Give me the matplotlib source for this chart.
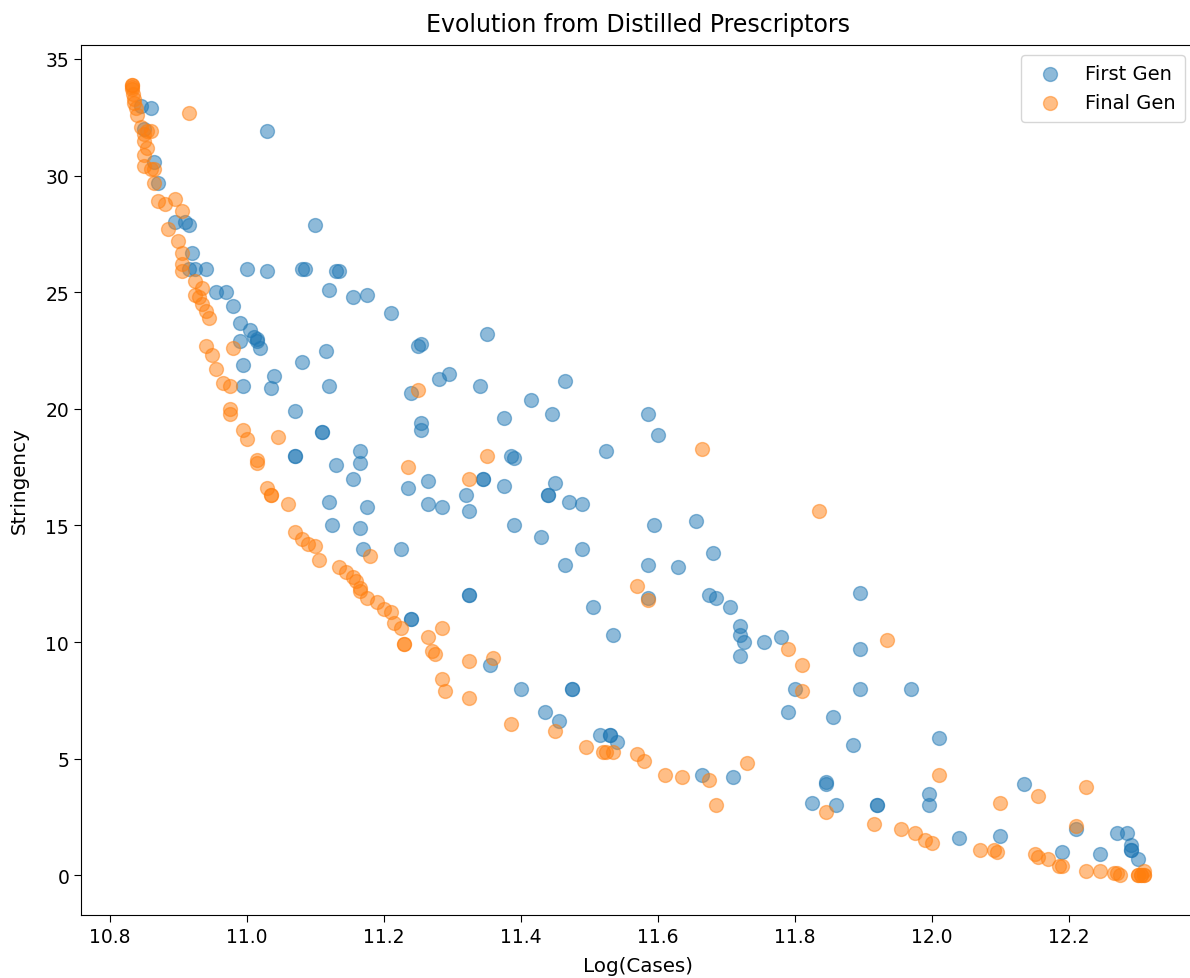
import matplotlib
matplotlib.use("Agg")
import matplotlib.pyplot as plt
import numpy as np

first_x = [10.845, 10.86, 11.03, 10.85, 10.865, 10.87, 10.895, 10.91, 10.915, 11.10,
           10.92, 10.915, 10.925, 10.94, 11.00, 11.03, 11.08, 11.085, 11.13, 11.135,
           10.955, 10.97, 11.12, 11.155, 11.175, 10.98, 10.99, 11.005, 11.01, 11.015,
           11.015, 11.02, 10.99, 11.21, 11.25, 11.255, 11.35, 11.115, 10.995, 11.08,
           11.04, 10.995, 11.035, 11.12, 11.24, 11.28, 11.295, 11.34, 11.465, 11.415,
           11.445, 11.375, 11.07, 11.255, 11.255, 11.11, 11.11, 11.585, 11.60, 11.165,
           11.165, 11.07, 11.07, 11.385, 11.39, 11.13, 11.155, 11.235, 11.265, 11.345,
           11.345, 11.375, 11.44, 11.44, 11.45, 11.525, 11.47, 11.49, 11.12, 11.175,
           11.265, 11.285, 11.32, 11.325, 11.165, 11.125, 11.39, 11.595, 11.655, 11.43,
           11.17, 11.225, 11.49, 11.68, 11.465, 11.585, 11.63, 11.325, 11.325, 11.585,
           11.675, 11.685, 11.705, 11.505, 11.895, 11.24, 11.24, 11.535, 11.72, 11.72,
           11.725, 11.72, 11.755, 11.78, 11.895, 11.355, 11.40, 11.475, 11.475, 11.80,
           11.895, 11.97, 11.79, 11.435, 11.455, 11.855, 11.515, 11.53, 11.53, 11.54,
           11.885, 12.01, 11.665, 11.71, 11.845, 11.845, 11.825, 11.86, 11.92, 11.92,
           11.995, 11.995, 12.135, 12.04, 12.10, 12.21, 12.19, 12.245, 12.27, 12.285,
           12.29, 12.29, 12.29, 12.30]
first_y = [33.0, 32.9, 31.9, 32.0, 30.6, 29.7, 28.0, 28.0, 27.9, 27.9,
           26.7, 26.0, 26.0, 26.0, 26.0, 25.9, 26.0, 26.0, 25.9, 25.9,
           25.0, 25.0, 25.1, 24.8, 24.9, 24.4, 23.7, 23.4, 23.1, 22.9,
           23.0, 22.6, 22.9, 24.1, 22.7, 22.8, 23.2, 22.5, 21.9, 22.0,
           21.4, 21.0, 20.9, 21.0, 20.7, 21.3, 21.5, 21.0, 21.2, 20.4,
           19.8, 19.6, 19.9, 19.4, 19.1, 19.0, 19.0, 19.8, 18.9, 18.2,
           17.7, 18.0, 18.0, 18.0, 17.9, 17.6, 17.0, 16.6, 16.9, 17.0,
           17.0, 16.7, 16.3, 16.3, 16.8, 18.2, 16.0, 15.9, 16.0, 15.8,
           15.9, 15.8, 16.3, 15.6, 14.9, 15.0, 15.0, 15.0, 15.2, 14.5,
           14.0, 14.0, 14.0, 13.8, 13.3, 13.3, 13.2, 12.0, 12.0, 11.9,
           12.0, 11.9, 11.5, 11.5, 12.1, 11.0, 11.0, 10.3, 10.7, 10.3,
           10.0, 9.4, 10.0, 10.2, 9.7, 9.0, 8.0, 8.0, 8.0, 8.0,
           8.0, 8.0, 7.0, 7.0, 6.6, 6.8, 6.0, 6.0, 6.0, 5.7,
           5.6, 5.9, 4.3, 4.2, 4.0, 3.9, 3.1, 3.0, 3.0, 3.0,
           3.5, 3.0, 3.9, 1.6, 1.7, 2.0, 1.0, 0.9, 1.8, 1.8,
           1.3, 1.1, 1.1, 0.7]

final_x = [10.832, 10.832, 10.832, 10.833, 10.834, 10.835, 10.836, 10.838, 10.84, 10.915,
           10.845, 10.85, 10.85, 10.855, 10.86, 10.855, 10.85, 10.85, 10.86, 10.865,
           10.865, 10.87, 10.88, 10.895, 10.905, 10.885, 10.90, 10.905, 10.905, 10.905,
           10.925, 10.925, 10.93, 10.935, 10.935, 10.94, 10.945, 10.94, 10.95, 10.955,
           10.965, 10.975, 10.98, 10.975, 10.975, 10.995, 11.00, 11.045, 11.015, 11.015,
           11.03, 11.035, 11.035, 11.06, 11.07, 11.08, 11.09, 11.10, 11.105, 11.135,
           11.145, 11.155, 11.16, 11.165, 11.165, 11.18, 11.175, 11.19, 11.20, 11.21,
           11.215, 11.225, 11.23, 11.23, 11.265, 11.285, 11.27, 11.275, 11.285, 11.29,
           11.325, 11.36, 11.325, 11.385, 11.45, 11.495, 11.52, 11.525, 11.535, 11.57,
           11.58, 11.61, 11.635, 11.675, 11.685, 11.73, 11.845, 11.915, 11.955, 11.975,
           11.99, 12.00, 12.07, 12.09, 12.095, 12.15, 12.155, 12.17, 12.185, 12.19,
           12.225, 12.245, 12.265, 12.27, 12.275, 12.30, 12.30, 12.305, 12.305, 12.31,
           12.31, 12.31, 12.10, 12.155, 12.225, 12.21, 12.01, 11.935, 11.79, 11.81,
           11.81, 11.835, 11.665, 11.57, 11.585, 11.235, 11.25, 11.35, 11.325]
final_y = [33.9, 33.9, 33.8, 33.7, 33.5, 33.3, 33.1, 32.9, 32.6, 32.7,
           32.1, 31.8, 31.5, 31.9, 31.9, 31.2, 30.9, 30.4, 30.3, 30.3,
           29.7, 28.9, 28.8, 29.0, 28.5, 27.7, 27.2, 26.7, 26.2, 25.9,
           25.5, 24.9, 24.8, 25.2, 24.5, 24.2, 23.9, 22.7, 22.3, 21.7,
           21.1, 21.0, 22.6, 20.0, 19.8, 19.1, 18.7, 18.8, 17.8, 17.7,
           16.6, 16.3, 16.3, 15.9, 14.7, 14.4, 14.2, 14.1, 13.5, 13.2,
           13.0, 12.8, 12.6, 12.3, 12.2, 13.7, 11.9, 11.7, 11.4, 11.3,
           10.8, 10.6, 9.9, 9.9, 10.2, 10.6, 9.6, 9.5, 8.4, 7.9,
           9.2, 9.3, 7.6, 6.5, 6.2, 5.5, 5.3, 5.3, 5.3, 5.2,
           4.9, 4.3, 4.2, 4.1, 3.0, 4.8, 2.7, 2.2, 2.0, 1.8,
           1.5, 1.4, 1.1, 1.1, 1.0, 0.9, 0.8, 0.7, 0.4, 0.4,
           0.2, 0.2, 0.1, 0.1, 0.0, 0.0, 0.0, 0.0, 0.0, 0.0,
           0.0, 0.2, 3.1, 3.4, 3.8, 2.1, 4.3, 10.1, 9.7, 9.0,
           7.9, 15.6, 18.3, 12.4, 11.8, 17.5, 20.8, 18.0, 17.0]

W, H = 1190, 979
fig = plt.figure(figsize=(W / 100, H / 100), dpi=100)
# axes extends slightly past the right edge of the (cropped) reference image
ax = fig.add_axes([81 / W, (H - 916) / H, (1195 - 81) / W, (916 - 46) / H])

ax.scatter(first_x, first_y, s=100, alpha=0.5, color='tab:blue', label='First Gen')
ax.scatter(final_x, final_y, s=100, alpha=0.5, color='tab:orange', label='Final Gen')

ax.set_title('Evolution from Distilled Prescriptors', fontsize=17, pad=10)
ax.set_xlabel('Log(Cases)', fontsize=14.3, labelpad=7)
ax.set_ylabel('Stringency', fontsize=14.3, labelpad=12)
ax.tick_params(labelsize=13.5, length=5)
ax.legend(loc='upper right', fontsize=14, borderpad=0.5)

fig.savefig('out.png', dpi=100)
